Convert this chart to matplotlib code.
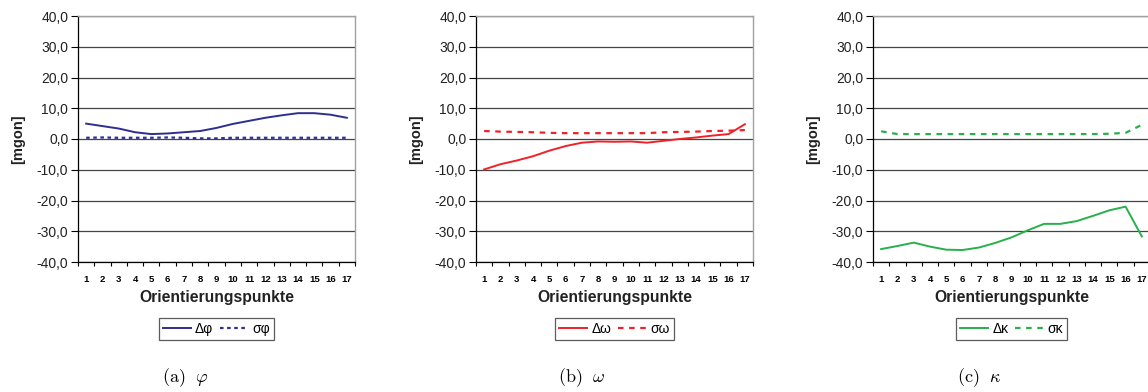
import matplotlib
matplotlib.use("Agg")
import matplotlib.pyplot as plt
from matplotlib.ticker import FuncFormatter, FixedLocator

plt.rcParams["font.family"] = ["Liberation Sans", "DejaVu Sans"]
plt.rcParams["mathtext.fontset"] = "cm"

# Orientierungspunkte 1..17
punkte = list(range(1, 18))

# (a) phi
d_phi = [5.0, 4.2, 3.4, 2.2, 1.6, 1.8, 2.2, 2.6, 3.6, 4.9, 5.9, 6.9, 7.7, 8.4, 8.4, 7.9, 6.9]
s_phi = [0.4, 0.5, 0.4, 0.4, 0.4, 0.5, 0.4, 0.2, 0.2, 0.4, 0.4, 0.4, 0.4, 0.4, 0.4, 0.4, 0.4]

# (b) omega
d_omega = [-9.9, -8.2, -7.0, -5.6, -3.8, -2.3, -1.2, -0.8, -0.9, -0.8, -1.2, -0.6, 0.0, 0.5, 1.1, 1.6, 4.8]
s_omega = [2.6, 2.4, 2.3, 2.2, 2.0, 1.9, 1.9, 1.9, 1.9, 1.9, 1.9, 2.2, 2.3, 2.4, 2.6, 2.7, 2.9]

# (c) kappa
d_kappa = [-35.8, -34.8, -33.7, -35.0, -36.0, -36.1, -35.3, -33.8, -32.0, -29.7, -27.6, -27.6, -26.7,
           -25.0, -23.2, -22.0, -31.7]
s_kappa = [2.5, 1.6, 1.6, 1.6, 1.6, 1.6, 1.6, 1.6, 1.6, 1.6, 1.6, 1.6, 1.6, 1.6, 1.7, 2.0, 4.6]

panels = [
    (d_phi, s_phi, "#2e2e8f", "Δφ", "σφ", "$\\mathrm{(a)}\\ \\ \\varphi$", (1.6, 1.6)),
    (d_omega, s_omega, "#ee2228", "Δω", "σω", "$\\mathrm{(b)}\\ \\ \\omega$", (2.5, 2.5)),
    (d_kappa, s_kappa, "#27b04b", "Δκ", "σκ", "$\\mathrm{(c)}\\ \\ \\kappa$", (2.5, 2.5)),
]

fig = plt.figure(figsize=(11.48, 3.92), dpi=100)
W, H = 1148, 392
lefts = [78, 476, 873]
caption_x = [185, 582, 979]

for i, (d, s, col, ld, ls, cap, dash) in enumerate(panels):
    ax = fig.add_axes([lefts[i] / W, (H - 262) / H, 277 / W, 246 / H])
    ax.plot(punkte, d, color=col, lw=1.4, label=ld)
    ax.plot(punkte, s, color=col, lw=1.6, dashes=dash, label=ls)

    ax.set_xlim(0.5, 17.5)
    ax.set_ylim(-40, 40)
    ax.set_yticks(range(-40, 41, 10))
    ax.yaxis.set_major_formatter(FuncFormatter(lambda v, p: f"{v:.1f}".replace(".", ",")))
    ax.set_xticks(punkte)
    ax.xaxis.set_minor_locator(FixedLocator([k + 0.5 for k in range(0, 18)]))
    ax.tick_params(axis="x", which="major", length=0, labelsize=6.8, pad=9)
    ax.tick_params(axis="x", which="minor", length=3, width=0.8, direction="out")
    ax.tick_params(axis="y", length=5, width=0.8, labelsize=10, pad=2, labelcolor="#222222")
    for t in ax.get_xticklabels():
        t.set_fontweight("bold")

    ax.grid(axis="y", color="#444444", lw=0.9)
    ax.set_axisbelow(True)
    for side in ["top", "right"]:
        ax.spines[side].set_color("#a0a0a0")
        ax.spines[side].set_linewidth(1.0)
    for side in ["left", "bottom"]:
        ax.spines[side].set_color("black")
        ax.spines[side].set_linewidth(0.9)

    ax.set_xlabel("Orientierungspunkte", fontsize=11.3, fontweight="bold", labelpad=5,
                  color="#222222")
    ax.set_ylabel("[mgon]", fontsize=10.5, fontweight="bold", labelpad=8, color="#222222")

    leg = ax.legend(loc="center", bbox_to_anchor=(0.5, -0.272), ncol=2, fontsize=10,
                    frameon=True, fancybox=False, edgecolor="#333333", handlelength=2.0,
                    handletextpad=0.3, columnspacing=0.5, borderpad=0.3)
    leg.get_frame().set_linewidth(0.9)

    fig.text(caption_x[i] / W, (H - 378) / H, cap, ha="center", va="center", fontsize=13)

fig.savefig("out.png", dpi=100)
